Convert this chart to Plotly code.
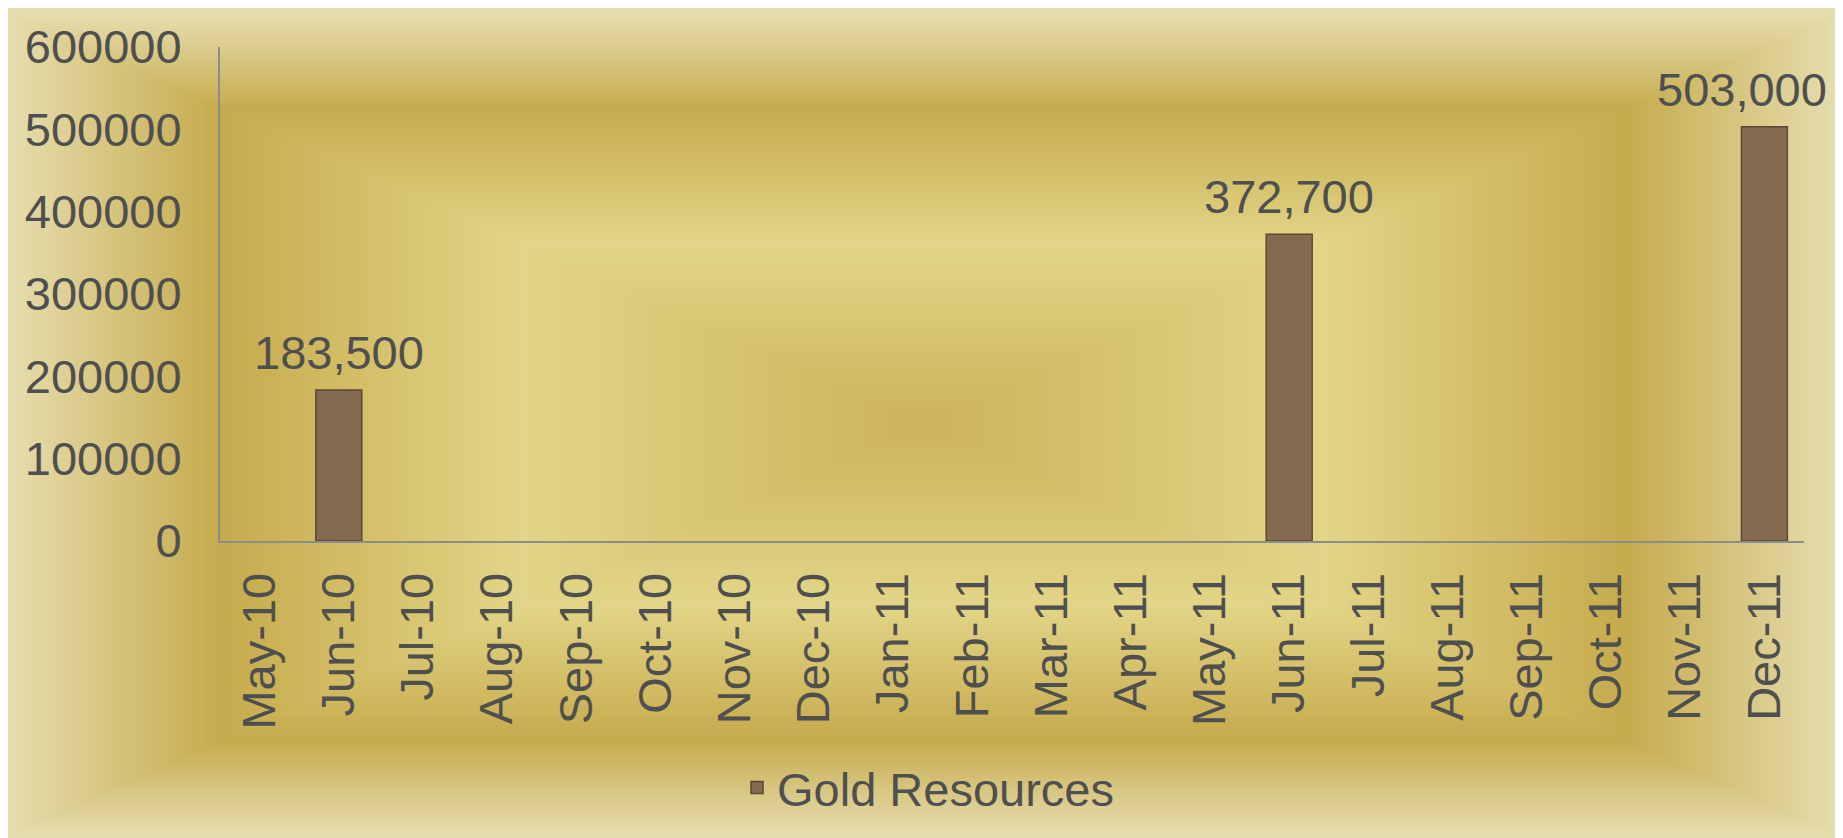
import plotly.graph_objects as go

months = ["May-10", "Jun-10", "Jul-10", "Aug-10", "Sep-10", "Oct-10", "Nov-10", "Dec-10",
          "Jan-11", "Feb-11", "Mar-11", "Apr-11", "May-11", "Jun-11", "Jul-11", "Aug-11",
          "Sep-11", "Oct-11", "Nov-11", "Dec-11"]
gold_resources = [None, 183500, None, None, None, None, None, None,
                  None, None, None, None, None, 372700, None, None,
                  None, None, None, 503000]
series_name = "Gold Resources"
y_ticks = [0, 100000, 200000, 300000, 400000, 500000, 600000]

W, H = 1830, 834
ML, MR, MT, MB = 212, 34, 33, 301
PW, PH = W - ML - MR, H - MT - MB

FONT = "Liberation Sans, Arial, Helvetica, sans-serif"
TXT = "#4F4F4F"


def px2paper(px, py):
    return (px - ML) / PW, (H - MB - py) / PH


def hex2rgb(h):
    h = h.lstrip("#")
    return tuple(int(h[i:i + 2], 16) for i in (0, 2, 4))


stops = [(0.0, "#CBB35A"), (0.44, "#E3D588"), (0.77, "#C6AB4D"), (1.0, "#E6DDAE")]


def color_at(t):
    for (t0, c0), (t1, c1) in zip(stops[:-1], stops[1:]):
        if t0 <= t <= t1:
            f = (t - t0) / (t1 - t0) if t1 > t0 else 0
            a, b = hex2rgb(c0), hex2rgb(c1)
            r = [round(a[i] + (b[i] - a[i]) * f) for i in range(3)]
            return "rgb(%d,%d,%d)" % tuple(r)
    return stops[-1][1]


# background: rectangular path gradient built from nested rectangles
L, R, T, B = 0, W, 0, 830
cx, cy = (L + R) / 2, (T + B) / 2
hw, hh = (R - L) / 2, (B - T) / 2
shapes = []
N = 260
for i in range(N):
    t = 1 - i / N
    x0, y0 = px2paper(cx - t * hw, min(H, cy + t * hh + (H - B if i == 0 else 0)))
    x1, y1 = px2paper(cx + t * hw, cy - t * hh)
    shapes.append(dict(type="rect", xref="paper", yref="paper", x0=x0, x1=x1, y0=y0, y1=y1,
                       fillcolor=color_at(t), line=dict(width=0), layer="below"))

fig = go.Figure()
fig.add_trace(go.Bar(
    x=months, y=gold_resources, name=series_name,
    marker=dict(color="#866A50", line=dict(color="#5B4734", width=1.5)),
    showlegend=True,
))

annotations = []
for i, (m, v) in enumerate(zip(months, gold_resources)):
    if v:
        annotations.append(dict(
            x=m, y=v, xref="x", yref="y", text=f"{v:,}", showarrow=False,
            yanchor="bottom", yshift=9, xshift=(-22 if i == len(months) - 1 else 0),
            font=dict(family=FONT, size=47, color=TXT),
        ))

fig.update_layout(
    width=W, height=H,
    margin=dict(l=ML, r=MR, t=MT, b=MB, pad=0),
    paper_bgcolor="#E6DDAE",
    plot_bgcolor="rgba(0,0,0,0)",
    font=dict(family=FONT, size=47, color=TXT),
    bargap=0.42,
    shapes=shapes,
    annotations=annotations,
    showlegend=True,
    legend=dict(orientation="h", x=px2paper(729, 0)[0], xanchor="left",
                y=px2paper(0, 783)[1], yanchor="middle",
                bgcolor="rgba(0,0,0,0)", font=dict(family=FONT, size=47, color=TXT)),
    xaxis=dict(type="category", range=[-0.5, len(months) - 0.5], tickangle=-90,
               showline=True, linecolor="#8C8C8C", linewidth=2,
               showgrid=False, zeroline=False, ticks="", ticklabelstandoff=11,
               tickfont=dict(family=FONT, size=47, color=TXT)),
    yaxis=dict(range=[0, 600000], tickvals=y_ticks, tickformat="d", showline=True,
               linecolor="#8C8C8C", linewidth=2, showgrid=False, zeroline=False, ticks="",
               ticklabelstandoff=27, tickfont=dict(family=FONT, size=47, color=TXT)),
)

fig.write_html("out.html")
